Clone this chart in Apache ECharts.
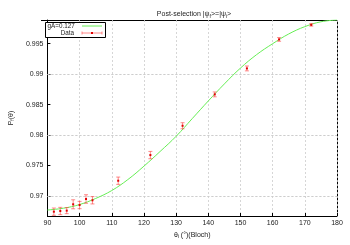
<!DOCTYPE html>
<html><head><meta charset="utf-8">
<script src="https://cdn.jsdelivr.net/npm/echarts@6/dist/echarts.min.js"></script>
<style>html,body{margin:0;padding:0;background:#fff}#c{width:350px;height:245px}</style>
</head><body><div id="c"></div>
<script>
// Measured data
var dataX = [92, 94, 96, 98, 100, 102, 104, 112, 122, 132, 142, 152, 162, 172];
var dataY = [0.96743, 0.96754, 0.96760, 0.96864, 0.96852, 0.96951, 0.96930, 0.97251, 0.97672, 0.98153, 0.98668, 0.99094, 0.99570, 0.99809];
var dataErr = [0.0006, 0.0006, 0.0005, 0.00074, 0.0006, 0.0007, 0.0006, 0.0006, 0.0006, 0.0005, 0.0004, 0.0004, 0.0003, 0.0002];
// Fit curve
var fitX = [90, 95, 100, 105, 110, 115, 120, 125, 130, 135, 140, 145, 150, 155, 160, 165, 170, 175, 180];
var fitY = [0.9677, 0.9680, 0.9686, 0.9696, 0.9709, 0.9727, 0.9749, 0.9773, 0.9798, 0.9827, 0.9856, 0.9884, 0.9910, 0.9932, 0.9950, 0.9966, 0.9978, 0.9986, 0.9989];
var yTicks = [0.97, 0.975, 0.98, 0.985, 0.99, 0.995];
var yTickLabels = ['0.97', '0.975', '0.98', '0.985', '0.99', '0.995'];
var legendFit = 'gA=0.127';
var legendData = 'Data';

var FONT = 'Liberation Sans, Arial, sans-serif';
var chart = echarts.init(document.getElementById('c'), null, {renderer: 'canvas'});
var errData = dataX.map(function (x, i) { return [x, dataY[i], dataErr[i]]; });
var fitData = fitX.map(function (x, i) { return [x, fitY[i]]; });
var gridMarks = yTicks.map(function (v) { return {yAxis: v}; });

var option = {
  animation: false,
  title: {
    text: 'Post-selection |ψ{s|f}>=|ψ{s|i}>',
    left: 189, top: 5, textAlign: 'center',
    textStyle: {fontSize: 7, fontWeight: 'normal', color: '#222', fontFamily: FONT,
      rich: {s: {fontSize: 5, verticalAlign: 'bottom', padding: [4, 0, 0, 0], color: '#222'}}}
  },
  grid: {left: 41, right: 13, top: 20, bottom: 29, containLabel: false},
  xAxis: {
    type: 'value', min: 90, max: 180, interval: 10,
    name: 'θ{s|i} (°)(Bloch)', nameLocation: 'middle', nameGap: 14,
    nameTextStyle: {fontSize: 7, color: '#222', fontFamily: FONT,
      rich: {s: {fontSize: 5, verticalAlign: 'bottom', color: '#222'}}},
    axisLine: {show: true, lineStyle: {color: '#000', width: 1}},
    axisTick: {show: true, inside: true, length: 3, lineStyle: {color: '#000'}},
    axisLabel: {fontSize: 7, color: '#222', margin: 4, fontFamily: FONT},
    splitLine: {show: true, lineStyle: {color: '#ccc', type: [2, 2], width: 0.8}}
  },
  yAxis: {
    type: 'value', min: 0.96672, max: 0.99889,
    name: 'P{s|f}(θ)', nameLocation: 'middle', nameGap: 31,
    nameTextStyle: {fontSize: 7, color: '#222', fontFamily: FONT,
      rich: {s: {fontSize: 5, verticalAlign: 'bottom', color: '#222'}}},
    axisLine: {show: true, lineStyle: {color: '#000', width: 1}},
    axisTick: {show: true, inside: true, length: 3, customValues: yTicks, lineStyle: {color: '#000'}},
    axisLabel: {fontSize: 7, color: '#222', margin: 4, fontFamily: FONT, customValues: yTicks,
      formatter: function (v) { var i = yTicks.indexOf(v); return i >= 0 ? yTickLabels[i] : String(v); }},
    splitLine: {show: false}
  },
  series: [
    {
      type: 'line', data: fitData, smooth: 0.4, showSymbol: false,
      lineStyle: {color: '#66ee55', width: 1}, z: 2,
      markLine: {silent: true, symbol: 'none', label: {show: false},
        lineStyle: {color: '#ccc', type: [2, 2], width: 0.8}, data: gridMarks, z: 1}
    },
    {
      type: 'custom', data: errData, z: 3,
      renderItem: function (params, api) {
        var x = api.value(0), y = api.value(1), e = api.value(2);
        var top = api.coord([x, y + e]);
        var bot = api.coord([x, y - e]);
        var c = api.coord([x, y]);
        var w = 2;
        var st = {stroke: 'rgba(255,60,60,0.6)', lineWidth: 1};
        return {type: 'group', children: [
          {type: 'line', shape: {x1: top[0], y1: top[1], x2: bot[0], y2: bot[1]}, style: st},
          {type: 'line', shape: {x1: top[0] - w, y1: top[1], x2: top[0] + w, y2: top[1]}, style: st},
          {type: 'line', shape: {x1: bot[0] - w, y1: bot[1], x2: bot[0] + w, y2: bot[1]}, style: st},
          {type: 'rect', shape: {x: c[0] - 1, y: c[1] - 1, width: 2, height: 2}, style: {fill: '#e00000'}}
        ]};
      }
    }
  ],
  graphic: [
    // mirror border top/right
    {type: 'line', shape: {x1: 41, y1: 20.5, x2: 337, y2: 20.5}, style: {stroke: '#000', lineWidth: 1}},
    {type: 'line', shape: {x1: 337.5, y1: 20, x2: 337.5, y2: 216}, style: {stroke: '#000', lineWidth: 1}},
    // legend box
    {type: 'rect', shape: {x: 45.5, y: 22.5, width: 60, height: 15}, style: {fill: '#fff', stroke: '#000', lineWidth: 1}, z: 10},
    {type: 'text', x: 47.5, y: 26, style: {text: legendFit, fontSize: 6.3, fill: '#222', align: 'left', verticalAlign: 'middle', fontFamily: FONT}, z: 11},
    {type: 'line', shape: {x1: 82, y1: 26, x2: 102, y2: 26}, style: {stroke: '#66ee55', lineWidth: 1}, z: 11},
    {type: 'text', x: 74, y: 33, style: {text: legendData, fontSize: 6.3, fill: '#222', align: 'right', verticalAlign: 'middle', fontFamily: FONT}, z: 11},
    {type: 'line', shape: {x1: 82, y1: 33, x2: 102, y2: 33}, style: {stroke: 'rgba(255,60,60,0.6)', lineWidth: 1}, z: 11},
    {type: 'line', shape: {x1: 82, y1: 31.5, x2: 82, y2: 34.5}, style: {stroke: 'rgba(255,60,60,0.6)', lineWidth: 1}, z: 11},
    {type: 'line', shape: {x1: 102, y1: 31.5, x2: 102, y2: 34.5}, style: {stroke: 'rgba(255,60,60,0.6)', lineWidth: 1}, z: 11},
    {type: 'rect', shape: {x: 91, y: 32, width: 2, height: 2}, style: {fill: '#e00000'}, z: 11}
  ]
};
chart.setOption(option);
</script></body></html>
